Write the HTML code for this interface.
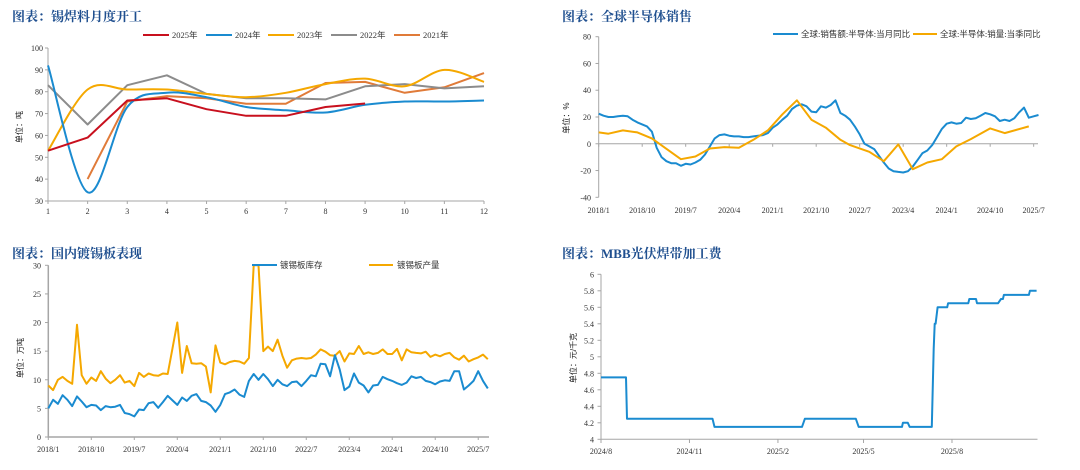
<!DOCTYPE html>
<html><head><meta charset="utf-8">
<style>
html,body{margin:0;padding:0;background:#fff;}
svg{display:block;}
.title{font-family:"Liberation Serif","Noto Serif CJK SC",serif;font-weight:bold;font-size:13px;fill:#1f4f8f;}
.tick{font-family:"Liberation Serif","Noto Serif CJK SC",serif;font-size:8px;fill:#333;}
.leg{font-family:"Liberation Serif","Noto Sans CJK SC",serif;font-size:8.5px;fill:#333;}
.ylab{font-family:"Liberation Sans","Noto Sans CJK SC",sans-serif;font-size:8px;fill:#222;}
</style></head>
<body>
<svg id="chart" width="1080" height="470" viewBox="0 0 1080 470" xmlns="http://www.w3.org/2000/svg">
<text class="title" x="12" y="21">图表：锡焊料月度开工</text>
<text class="title" x="562" y="21">图表：全球半导体销售</text>
<text class="title" x="12" y="258">图表：国内镀锡板表现</text>
<text class="title" x="562" y="258">图表：MBB光伏焊带加工费</text>
</svg>
<script>
// ---------- Panel 1 data ----------
const p1Months = [1,2,3,4,5,6,7,8,9,10,11,12];
const p1Ticks = [30,40,50,60,70,80,90,100];
const s2025 = [53,59,76,77,72,69,69,73,74.6];
const s2024 = [92,34,73,79.5,77.5,73,71.5,70.5,74,75.5,75.5,76];
const s2023 = [53,81,81,81,79,77.5,79.5,83.5,86,82.5,90,84.5];
const s2022 = [83,65,83,87.5,79,77,77,76.5,82.5,83.5,81.5,82.5];
const s2021 = [null,40,75.5,78,77,74.5,74.5,84,84.5,79.5,82,88.5];
// ---------- Panel 2 data ----------
const p2TickLabels = ["2018/1","2018/10","2019/7","2020/4","2021/1","2021/10","2022/7","2023/4","2024/1","2024/10","2025/7"];
const p2YTicks = [-40,-20,0,20,40,60,80];
const semiMonthly = [22.5,21,20,20,20.5,21,20.5,18,16,14.5,13,9,-3,-10,-13,-14.5,-14.5,-16.5,-15,-15.5,-14,-12,-8,-2,4,6.5,7,6,5.5,5.5,5,5,5.5,6,6.5,8,12,14.5,18,21,26,28.5,29.5,28,24,23.5,28,27,29,32.5,23,21,18,13,7,0,-2,-4,-9,-14,-18.5,-20.5,-21,-21.5,-20.5,-17,-12,-7,-5,-1,5,11,15,16,15,15.5,19.5,18.5,19,21,23,22,20.5,17,18,17,19,23.5,27,19.5,20.5,21.5];
const semiQMonths = [0,2,5,8,11,17,20,23,26,29,32,35,38,41,44,47,50,52,56,59,62,65,68,71,74,77,81,84,89];
const semiQValues = [8.5,7.5,10,8.5,4,-11.5,-9.5,-3.5,-2.5,-3,3,10,22,32.5,18,12,3,-1,-6,-13,-0.5,-19,-14,-11.5,-2,3.5,11.5,8,13];
// ---------- Panel 3 data ----------
const p3TickLabels = ["2018/1","2018/10","2019/7","2020/4","2021/1","2021/10","2022/7","2023/4","2024/1","2024/10","2025/7"];
const p3YTicks = [0,5,10,15,20,25,30];
const tinInventory = [5,6.5,5.8,7.3,6.5,5.4,7.1,6.2,5.2,5.6,5.5,4.7,5.4,5.2,5.3,5.6,4.2,4,3.6,4.8,4.7,5.9,6.1,5.1,6.1,7.2,6.4,5.6,6.9,6.3,7.2,7.5,6.3,6.1,5.5,4.4,5.6,7.5,7.8,8.3,7.4,7,9.8,11,10,11,10.1,8.9,10,9.2,8.9,9.6,9.7,8.9,9.8,10.8,10.6,12.8,12.7,10.6,14.3,11.8,8.2,8.8,11.1,9.5,9,7.8,9,9.1,10.5,10.1,9.8,9.4,9.1,9.5,10.6,10.3,10.5,9.8,9.6,9.2,9.7,9.9,9.8,11.5,11.5,8.3,9,9.8,11.5,9.8,8.5];
const tinOutput = [9,8.2,10,10.5,9.8,9.3,19.6,10.8,9.3,10.4,9.8,11.5,10.2,9.4,10,10.8,9.5,9.8,8.9,11.2,10.5,11.1,10.8,10.7,11.1,11,15.5,20,11.2,15.9,12.9,12.8,12.9,12.3,7.8,16,13,12.7,13.1,13.3,13.2,12.8,13.8,30,30,15,15.8,15,17,14.2,12.1,13.4,13.7,13.8,13.7,13.8,14.4,15.3,14.9,14.3,14.2,15,13.2,14.6,14.5,15.9,14.5,14.8,14.5,14.7,15.3,14.5,14.5,15.4,13.4,15.3,14.8,14.7,14.6,14.9,14,14.4,14.1,14.5,14.7,13.9,13.5,14.2,13.2,13.6,13.9,14.4,13.6];
// ---------- Panel 4 data ----------
const p4TickLabels = ["2024/8","2024/11","2025/2","2025/5","2025/8"];
const p4TickDays = [0,92,184,273,365];
const p4YTicks = [4,4.2,4.4,4.6,4.8,5,5.2,5.4,5.6,5.8,6];
const feeDays = [0,26,27,116,118,209,212,265,268,313,314,319,321,344,346,347,348,350,360,361,382,383,390,391,413,416,418,419,445,446,453];
const feeValues = [4.75,4.75,4.25,4.25,4.15,4.15,4.25,4.25,4.15,4.15,4.2,4.2,4.15,4.15,5.1,5.4,5.4,5.6,5.6,5.65,5.65,5.7,5.7,5.65,5.65,5.7,5.7,5.75,5.75,5.8,5.8];

const NS = "http://www.w3.org/2000/svg";
const svg = document.getElementById('chart');
function mk(tag, attrs, parent){
  const e = document.createElementNS(NS, tag);
  for (const k in attrs) e.setAttribute(k, attrs[k]);
  (parent || svg).appendChild(e);
  return e;
}
function txt(str, x, y, cls, anchor){
  const t = mk('text', {x:x, y:y, class:cls, 'text-anchor':anchor||'start'});
  t.textContent = str;
  return t;
}
function linePath(pts){
  return pts.map((p,i)=>(i?'L':'M')+p[0].toFixed(1)+' '+p[1].toFixed(1)).join(' ');
}
function smoothPath(pts){
  let d = 'M'+pts[0][0]+' '+pts[0][1];
  for (let i=0;i<pts.length-1;i++){
    const p0=pts[i-1]||pts[i], p1=pts[i], p2=pts[i+1], p3=pts[i+2]||p2;
    const c1=[p1[0]+(p2[0]-p0[0])/6, p1[1]+(p2[1]-p0[1])/6];
    const c2=[p2[0]-(p3[0]-p1[0])/6, p2[1]-(p3[1]-p1[1])/6];
    d += ' C'+c1[0].toFixed(1)+' '+c1[1].toFixed(1)+' '+c2[0].toFixed(1)+' '+c2[1].toFixed(1)+' '+p2[0].toFixed(1)+' '+p2[1].toFixed(1);
  }
  return d;
}
const AX = '#a6a6a6';

// ================= Panel 1 =================
(function(){
  const x = m => 48 + (m-1)*(484-48)/11;
  const y = v => 201 - (v-30)/70*153;
  const ax = mk('path', {d:'M48 48 V201 H484', fill:'none', stroke:AX, 'stroke-width':1});
  
  
  p1Ticks.forEach(v=>{
    mk('line',{x1:45,x2:48,y1:y(v),y2:y(v),stroke:AX});
    const t = txt(String(v), 43, y(v)+3, 'tick', 'end');
    
    
  });
  p1Months.forEach(m=>{
    mk('line',{x1:x(m),x2:x(m),y1:201,y2:204,stroke:AX});
    const t = txt(String(m), x(m), 214, 'tick', 'middle');
    
    
  });
  const yl = txt('单位：吨', 0, 0, 'ylab', 'middle');
  yl.setAttribute('transform', 'translate(22,127) rotate(-90)');
  
  
  const series = [
    {d:s2021, c:'#e07b39', smooth:false, n:'2021年', lx:394},
    {d:s2022, c:'#8c8c8c', smooth:false, n:'2022年', lx:331},
    {d:s2023, c:'#f5a800', smooth:true, n:'2023年', lx:268},
    {d:s2024, c:'#1a8bd0', smooth:true, n:'2024年', lx:206},
    {d:s2025, c:'#c8101e', smooth:false, n:'2025年', lx:143}
  ];
  series.forEach(s=>{
    const pts = [];
    s.d.forEach((v,i)=>{ if(v!==null) pts.push([x(i+1), y(v)]); });
    const p = mk('path', {d: s.smooth?smoothPath(pts):linePath(pts), fill:'none', stroke:s.c, 'stroke-width':2, 'stroke-linejoin':'round'});
    
    
    const lg = mk('line', {x1:s.lx, x2:s.lx+26, y1:35, y2:35, stroke:s.c, 'stroke-width':2});
    
    
    const lt = txt(s.n, s.lx+29, 38, 'leg');
    
    
  });
})();

// ================= Panel 2 =================
(function(){
  const x = m => 598.7 + m*4.833;
  const y = v => 36.7 + (80-v)/120*160.6;
  const ax = mk('line', {x1:598.7,x2:598.7,y1:36.7,y2:197.3,stroke:AX});
  
  
  const z = mk('line', {x1:598.7,x2:1038,y1:y(0),y2:y(0),stroke:AX});
  
  
  p2YTicks.forEach(v=>{
    mk('line',{x1:595.5,x2:598.7,y1:y(v),y2:y(v),stroke:AX});
    const t = txt(String(v), 591, y(v)+3, 'tick', 'end');
    
    
  });
  p2TickLabels.forEach((l,i)=>{
    mk('line',{x1:x(i*9),x2:x(i*9),y1:y(0),y2:y(0)+3,stroke:AX});
    const t = txt(l, x(i*9), 213, 'tick', 'middle');
    
    
  });
  const yl = txt('单位：%', 0, 0, 'ylab', 'middle');
  yl.setAttribute('transform', 'translate(569,118) rotate(-90)');
  
  
  const b = mk('path', {d:linePath(semiMonthly.map((v,i)=>[x(i),y(v)])), fill:'none', stroke:'#1a8bd0','stroke-width':2,'stroke-linejoin':'round'});
  
  
  const o = mk('path', {d:linePath(semiQMonths.map((m,i)=>[x(m),y(semiQValues[i])])), fill:'none', stroke:'#f5a800','stroke-width':2,'stroke-linejoin':'round'});
  
  
  const l1 = mk('line',{x1:773,x2:798,y1:34,y2:34,stroke:'#1a8bd0','stroke-width':2});
  
  
  const t1 = txt('全球:销售额:半导体:当月同比', 801, 37, 'leg');
  
  
  const l2 = mk('line',{x1:913,x2:937,y1:34,y2:34,stroke:'#f5a800','stroke-width':2});
  
  
  const t2 = txt('全球:半导体:销量:当季同比', 940, 37, 'leg');
  
  
})();

// ================= Panel 3 =================
(function(){
  const x = m => 48.3 + m*4.777;
  const y = v => 437 - v/30*171.7;
  const ax = mk('path', {d:'M48.3 265.3 V437 H489', fill:'none', stroke:AX, 'stroke-width':1.5});
  
  
  p3YTicks.forEach(v=>{
    mk('line',{x1:45,x2:48.3,y1:y(v),y2:y(v),stroke:AX});
    const t = txt(String(v), 41, y(v)+3, 'tick', 'end');
    
    
  });
  p3TickLabels.forEach((l,i)=>{
    mk('line',{x1:x(i*9),x2:x(i*9),y1:437,y2:440,stroke:AX});
    const t = txt(l, x(i*9), 452, 'tick', 'middle');
    
    
  });
  const yl = txt('单位：万吨', 0, 0, 'ylab', 'middle');
  yl.setAttribute('transform', 'translate(23,358) rotate(-90)');
  
  
  const o = mk('path', {d:linePath(tinOutput.map((v,i)=>[x(i),y(v)])), fill:'none', stroke:'#f5a800','stroke-width':2,'stroke-linejoin':'round'});
  
  
  const b = mk('path', {d:linePath(tinInventory.map((v,i)=>[x(i),y(v)])), fill:'none', stroke:'#1a8bd0','stroke-width':2,'stroke-linejoin':'round'});
  
  
  const l1 = mk('line',{x1:252,x2:277,y1:265,y2:265,stroke:'#1a8bd0','stroke-width':2});
  
  
  const t1 = txt('镀锡板库存', 280, 268, 'leg');
  
  
  const l2 = mk('line',{x1:369,x2:393,y1:265,y2:265,stroke:'#f5a800','stroke-width':2});
  
  
  const t2 = txt('镀锡板产量', 397, 268, 'leg');
  
  
})();

// ================= Panel 4 =================
(function(){
  const x = d => 601 + d*0.9616;
  const y = v => 439.3 - (v-4)/2*165;
  const ax = mk('path', {d:'M601 274.3 V439.3 H1037.5', fill:'none', stroke:AX, 'stroke-width':1});
  
  
  p4YTicks.forEach(v=>{
    mk('line',{x1:597.5,x2:601,y1:y(v),y2:y(v),stroke:AX});
    const t = txt(String(v), 594, y(v)+3, 'tick', 'end');
    
    
  });
  p4TickLabels.forEach((l,i)=>{
    mk('line',{x1:x(p4TickDays[i]),x2:x(p4TickDays[i]),y1:439.3,y2:443,stroke:AX});
    const t = txt(l, x(p4TickDays[i]), 454, 'tick', 'middle');
    
    
  });
  const yl = txt('单位：元/千克', 0, 0, 'ylab', 'middle');
  yl.setAttribute('transform', 'translate(576,358) rotate(-90)');
  
  
  const p = mk('path', {d:linePath(feeDays.map((d,i)=>[x(d),y(feeValues[i])])), fill:'none', stroke:'#1a8bd0','stroke-width':2,'stroke-linejoin':'round'});
  
  
})();
</script>
</body></html>
